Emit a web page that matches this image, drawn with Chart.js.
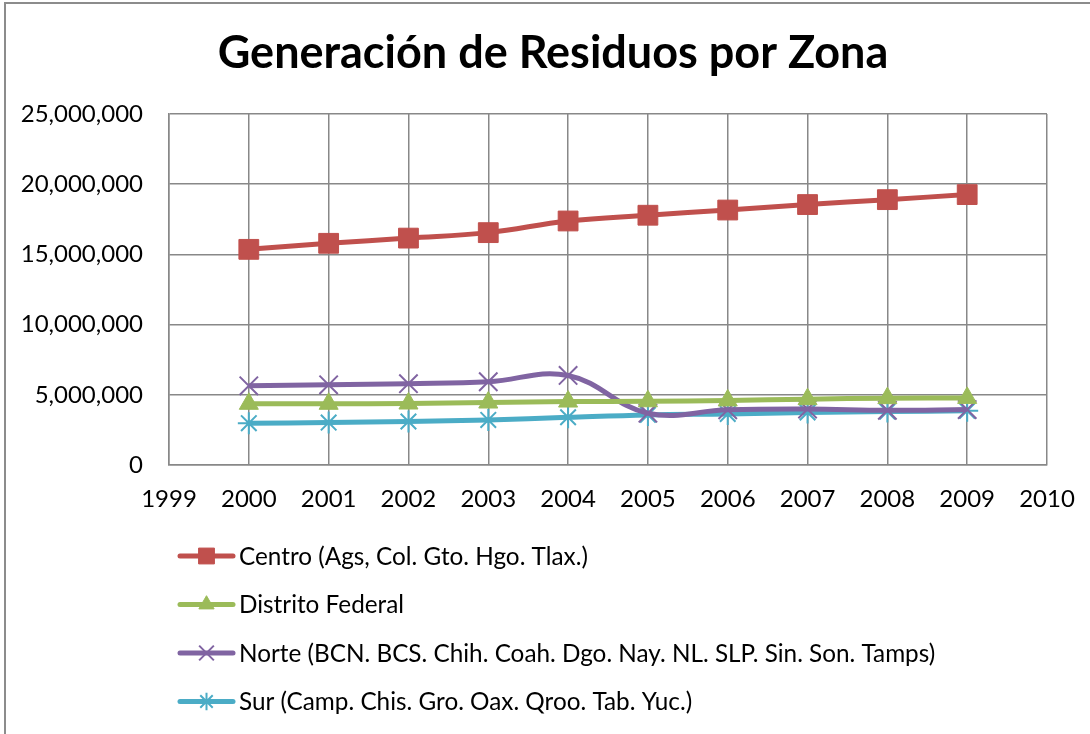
<!DOCTYPE html>
<html>
<head>
<meta charset="utf-8">
<script src="https://cdn.jsdelivr.net/npm/chart.js@4/dist/chart.umd.min.js"></script>
<style>
  body { margin: 0; background: #fff; }
  #frame {
    position: absolute; left: 4px; top: 2px;
    width: 1086px; height: 732px;
    border-left: 2px solid #8c8c8c; border-top: 2px solid #8c8c8c;
  }
  canvas { display: block; }
</style>
</head>
<body>
<div id="frame"><canvas id="chart" width="1084" height="730"></canvas></div>
<script>
// data (toneladas)
const years = [2000, 2001, 2002, 2003, 2004, 2005, 2006, 2007, 2008, 2009];
const centro = [15360000, 15790000, 16160000, 16550000, 17380000, 17790000, 18160000, 18550000, 18900000, 19260000];
const distritoFederal = [4360000, 4360000, 4380000, 4450000, 4520000, 4540000, 4600000, 4690000, 4760000, 4780000];
const norte = [5640000, 5710000, 5790000, 5930000, 6380000, 3690000, 3930000, 3980000, 3900000, 3950000];
const sur = [2980000, 3020000, 3100000, 3210000, 3400000, 3570000, 3640000, 3740000, 3810000, 3860000];
const seriesLabels = [
    'Centro (Ags, Col. Gto. Hgo. Tlax.)',
    'Distrito Federal',
    'Norte (BCN. BCS. Chih. Coah. Dgo. Nay. NL. SLP. Sin. Son. Tamps)',
    'Sur (Camp. Chis. Gro. Oax. Qroo. Tab. Yuc.)'
];
const chartTitle = 'Generación de Residuos por Zona';

const FONT = 'Lato, "Open Sans", sans-serif';

function toPoints(values) {
    return years.map(function(y, i) { return { x: y, y: values[i] }; });
}

function makeSeries(label, values, color, style, radius, pointBorder) {
    return {
        label: label,
        data: toPoints(values),
        borderColor: color,
        backgroundColor: color,
        borderWidth: 5,
        tension: 0.4,
        fill: false,
        pointStyle: style,
        pointRadius: radius,
        pointBackgroundColor: color,
        pointBorderColor: color,
        pointBorderWidth: pointBorder
    };
}

// legend drawn as a stacked list under the plot, like the original
const stackedLegend = {
    id: 'stackedLegend',
    afterDraw(chart, args, opts) {
        const ctx = chart.ctx;
        ctx.save();
        ctx.font = opts.fontSize + 'px ' + FONT;
        ctx.textBaseline = 'middle';
        chart.data.datasets.forEach(function(ds, i) {
            const x = opts.left;
            const y = opts.top + i * opts.rowHeight;
            ctx.strokeStyle = ds.borderColor;
            ctx.lineWidth = ds.borderWidth;
            ctx.lineCap = 'round';
            ctx.beginPath();
            ctx.moveTo(x, y);
            ctx.lineTo(x + opts.lineLength, y);
            ctx.stroke();
            ctx.fillStyle = ds.pointBackgroundColor;
            ctx.strokeStyle = ds.pointBorderColor;
            ctx.lineWidth = ds.pointBorderWidth;
            ctx.lineCap = 'butt';
            Chart.helpers.drawPoint(ctx, {
                pointStyle: ds.pointStyle,
                radius: ds.pointRadius * 0.8,
                borderWidth: ds.pointBorderWidth,
                rotation: 0
            }, x + opts.lineLength / 2, y);
            ctx.fillStyle = '#000';
            ctx.fillText(ds.label, x + opts.lineLength + opts.gap, y + 1);
        });
        ctx.restore();
    }
};

new Chart(document.getElementById('chart'), {
    type: 'line',
    data: {
        datasets: [
            makeSeries(seriesLabels[0], centro, '#C0504D', 'rect', 14, 1),
            makeSeries(seriesLabels[1], distritoFederal, '#9BBB59', 'triangle', 11, 1),
            makeSeries(seriesLabels[2], norte, '#8064A2', 'crossRot', 13, 2),
            makeSeries(seriesLabels[3], sur, '#4BACC6', 'star', 11, 2)
        ]
    },
    plugins: [stackedLegend],
    options: {
        responsive: false,
        animation: false,
        layout: { padding: { left: 10, right: 0, top: 0, bottom: 219 } },
        plugins: {
            legend: { display: false },
            tooltip: { enabled: false },
            title: {
                display: true,
                text: chartTitle,
                color: '#000',
                font: { family: FONT, size: 45, weight: 'bold' },
                padding: { top: 22, bottom: 34 }
            },
            stackedLegend: { left: 174, top: 552, rowHeight: 48.5, lineLength: 53, gap: 6, fontSize: 24.3 }
        },
        scales: {
            x: {
                type: 'linear',
                min: 1999,
                max: 2010,
                afterFit: function(scale) { scale.height = 50; scale.paddingRight = 43; },
                ticks: {
                    stepSize: 1,
                    color: '#000',
                    padding: 20,
                    maxRotation: 0,
                    font: { family: FONT, size: 24 },
                    callback: function(v) { return String(v); }
                },
                grid: { color: '#888', lineWidth: 1.5, drawTicks: false },
                border: { color: '#888', width: 1.5 }
            },
            y: {
                min: 0,
                max: 25000000,
                afterFit: function(scale) { scale.width = 153; },
                ticks: {
                    stepSize: 5000000,
                    color: '#000',
                    padding: 26,
                    font: { family: FONT, size: 24 },
                    callback: function(v) { return v.toLocaleString('en-US'); }
                },
                grid: { color: '#888', lineWidth: 1.5, drawTicks: false },
                border: { color: '#888', width: 1.5 }
            }
        }
    }
});
</script>
</body>
</html>
